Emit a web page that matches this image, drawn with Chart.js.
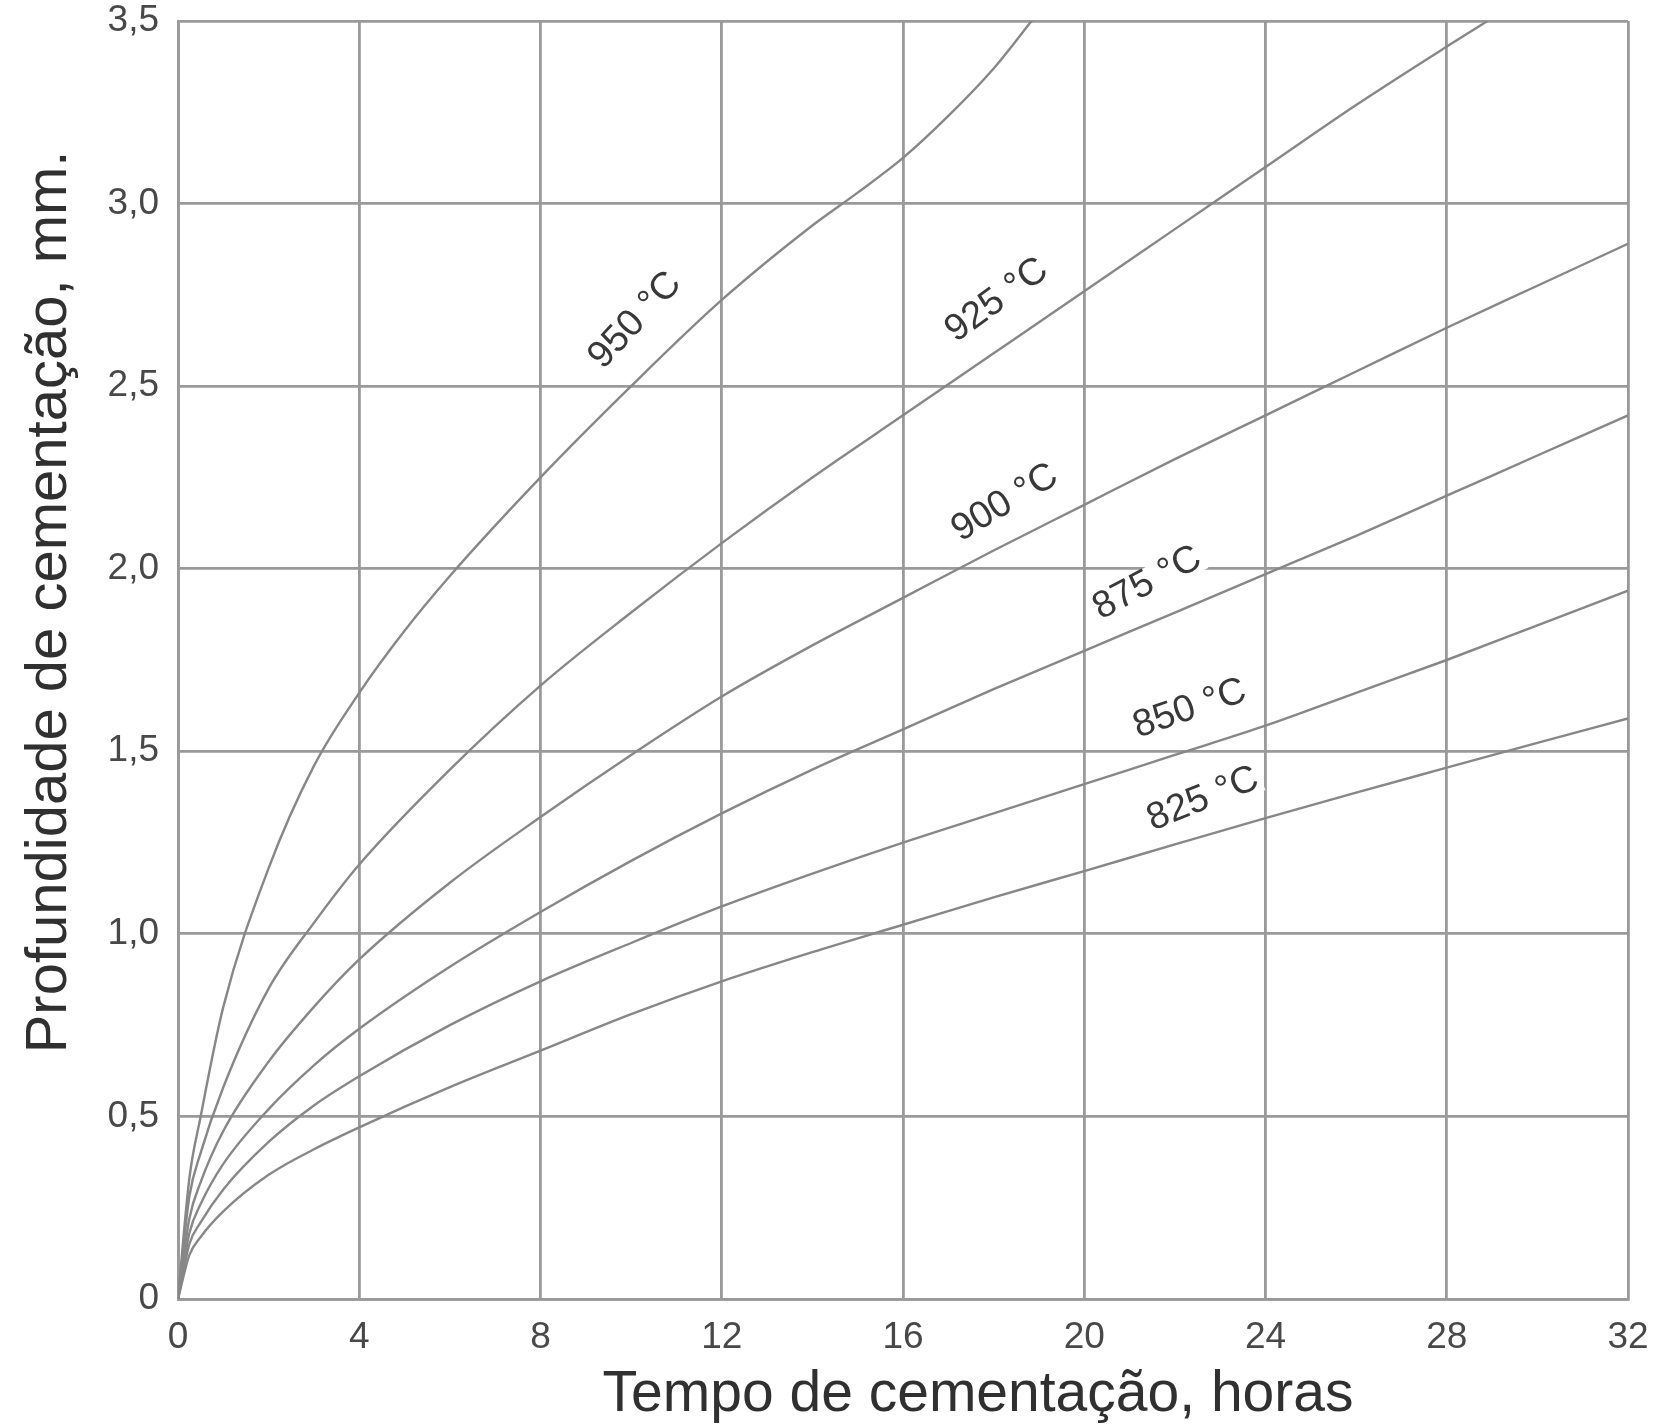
<!DOCTYPE html>
<html><head><meta charset="utf-8">
<script src="https://cdn.jsdelivr.net/npm/chart.js@4/dist/chart.umd.min.js"></script>
<style>html,body{margin:0;padding:0;background:#fff;}#wrap{width:1663px;height:1425px;}</style>
</head><body><div id="wrap"><canvas id="c" width="1663" height="1425"></canvas></div>
<script>
// ---- data ----
const xTicks = [0, 4, 8, 12, 16, 20, 24, 28, 32];
const xTickLabels = ['0','4','8','12','16','20','24','28','32'];
const yTicks = [0, 0.5, 1, 1.5, 2, 2.5, 3, 3.5];
const yTickLabels = ['0','0,5','1,0','1,5','2,0','2,5','3,0','3,5'];
const xTitle = 'Tempo de cementação, horas';
const yTitle = 'Profundidade de cementação, mm.';
const seriesNames = ['950 °C','925 °C','900 °C','875 °C','850 °C','825 °C'];

const t950 = [0, 0.25, 0.5, 1, 2, 3, 4, 5, 6, 8, 10, 12, 14, 15, 16, 17, 18, 18.9];
const d950 = [0, 0.33, 0.5, 0.8, 1.18, 1.46, 1.66, 1.83, 1.98, 2.25, 2.5, 2.736, 2.94, 3.03, 3.125, 3.24, 3.37, 3.51];
const t925 = [0, 0.25, 0.5, 1, 2, 3, 4, 6, 8, 10, 12, 14, 16, 18, 20, 22, 24, 26, 28, 28.9];
const d925 = [0, 0.28, 0.4, 0.58, 0.85, 1.03, 1.19, 1.45, 1.68, 1.88, 2.07, 2.25, 2.42, 2.59, 2.76, 2.93, 3.10, 3.27, 3.43, 3.5];
const tStd = [0, 0.25, 0.5, 1, 2, 3, 4, 6, 8, 10, 12, 14, 16, 18, 20, 22, 24, 26, 28, 30, 32];
const d900 = [0, 0.22, 0.32, 0.46, 0.65, 0.8, 0.93, 1.14, 1.32, 1.49, 1.65, 1.79, 1.92, 2.05, 2.175, 2.30, 2.42, 2.54, 2.66, 2.775, 2.89];
const d875 = [0, 0.18, 0.26, 0.37, 0.52, 0.64, 0.74, 0.91, 1.06, 1.20, 1.33, 1.45, 1.56, 1.67, 1.775, 1.88, 1.985, 2.09, 2.20, 2.31, 2.42];
const d850 = [0, 0.15, 0.21, 0.30, 0.43, 0.53, 0.61, 0.75, 0.87, 0.975, 1.075, 1.165, 1.25, 1.33, 1.41, 1.49, 1.57, 1.66, 1.75, 1.845, 1.94];
const d825 = [0, 0.12, 0.17, 0.24, 0.34, 0.41, 0.47, 0.58, 0.68, 0.78, 0.87, 0.95, 1.025, 1.10, 1.172, 1.245, 1.317, 1.387, 1.455, 1.523, 1.59];

// label anchors (data coordinates) for curve names
const labelT = [10.09, 18.07, 18.25, 21.39, 22.33, 22.62];
const labelD = [2.68, 2.735, 2.18, 1.96, 1.616, 1.369];
const labelAngle = [-47, -36, -31, -28, -19, -22];

// ---- chart ----
const seriesT = [t950, t925, tStd, tStd, tStd, tStd];
const seriesD = [d950, d925, d900, d875, d850, d825];
const FONT = "'Liberation Sans', Arial, sans-serif";
const GRID = '#9a9a9a';

const datasets = seriesNames.map((name, k) => ({
  label: name,
  data: seriesT[k].map((t, i) => ({x: t, y: seriesD[k][i]})),
  borderColor: '#878787',
  borderWidth: 2.4,
  pointRadius: 0,
  fill: false,
  clip: 0,
  cubicInterpolationMode: 'monotone'
}));

const textPlugin = {
  id: 'texts',
  afterDatasetsDraw(chart) {
    const ctx = chart.ctx, xs = chart.scales.x, ys = chart.scales.y;
    ctx.save();
    ctx.font = '38px ' + FONT;
    ctx.textAlign = 'center';
    ctx.textBaseline = 'middle';
    seriesNames.forEach((name, k) => {
      const px = xs.getPixelForValue(labelT[k]);
      const py = ys.getPixelForValue(labelD[k]);
      ctx.save();
      ctx.translate(px, py);
      ctx.rotate(labelAngle[k] * Math.PI / 180);
      const w = ctx.measureText(name).width;
      ctx.fillStyle = '#ffffff';
      ctx.fillRect(-w / 2 - 3, -15, w + 6, 30);
      ctx.fillStyle = '#383838';
      ctx.fillText(name, 0, 0);
      ctx.restore();
    });
    ctx.restore();
  },
  afterDraw(chart) {
    const ctx = chart.ctx;
    ctx.save();
    ctx.fillStyle = '#303030';
    ctx.font = '57px ' + FONT;
    ctx.textAlign = 'center';
    ctx.textBaseline = 'alphabetic';
    ctx.fillText(xTitle, 978, 1411);
    ctx.translate(66, 602);
    ctx.rotate(-Math.PI / 2);
    ctx.font = '58px ' + FONT;
    ctx.fillText(yTitle, 0, 0);
    ctx.restore();
  }
};

new Chart(document.getElementById('c').getContext('2d'), {
  type: 'line',
  data: {datasets},
  options: {
    responsive: false,
    animation: false,
    devicePixelRatio: 1,
    layout: {padding: {top: 21, right: 35, left: 0, bottom: 0}},
    plugins: {legend: {display: false}, tooltip: {enabled: false}},
    scales: {
      x: {
        type: 'linear', min: 0, max: 32,
        afterBuildTicks: s => { s.ticks = xTicks.map(v => ({value: v})); },
        afterFit: s => { s.height = 126; s.paddingLeft = 0; s.paddingRight = 0; },
        ticks: {
          callback: (v, i) => xTickLabels[i],
          font: {family: FONT, size: 37}, color: '#484848',
          padding: 17, maxRotation: 0, autoSkip: false
        },
        grid: {color: GRID, lineWidth: 2.8, drawTicks: false},
        border: {color: GRID, width: 2.8}
      },
      y: {
        type: 'linear', min: 0, max: 3.5,
        afterBuildTicks: s => { s.ticks = yTicks.map(v => ({value: v})); },
        afterFit: s => { s.width = 178; s.paddingTop = 0; s.paddingBottom = 0; },
        ticks: {
          callback: (v, i) => yTickLabels[i],
          font: {family: FONT, size: 37}, color: '#484848',
          padding: 19, autoSkip: false
        },
        grid: {color: GRID, lineWidth: 2.8, drawTicks: false},
        border: {color: GRID, width: 2.8}
      }
    }
  },
  plugins: [textPlugin]
});
</script>
</body></html>
